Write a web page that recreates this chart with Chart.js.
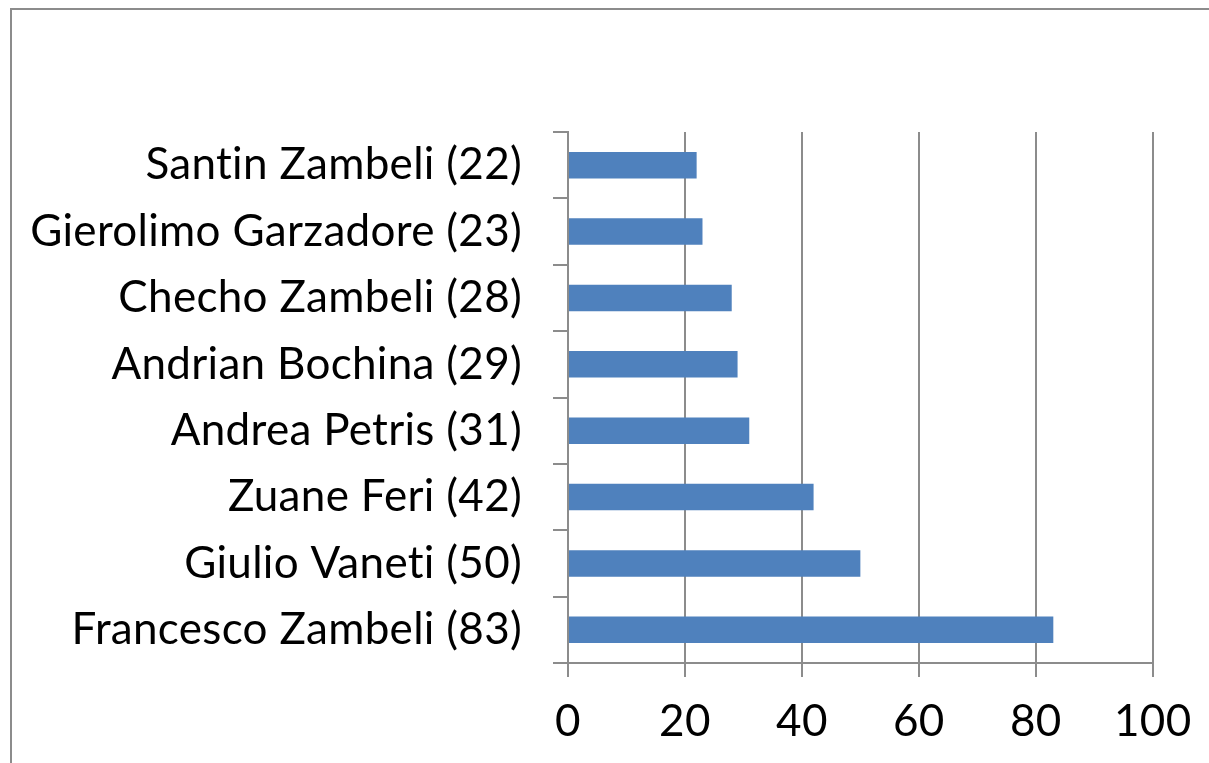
<!DOCTYPE html>
<html>
<head>
<meta charset="utf-8">
<title>Zambeli</title>
<script src="https://cdn.jsdelivr.net/npm/chart.js@4.4.1/dist/chart.umd.min.js"></script>
<style>
    html, body { margin: 0; padding: 0; background: #fff; overflow: hidden; }
    #wrap { position: relative; width: 1209px; height: 763px; }
    #frame { position: absolute; left: 10px; top: 8px; width: 1400px; height: 900px; border: 2px solid #8c8c8c; box-sizing: border-box; }
    #chart { position: absolute; left: 0; top: 0; }
</style>
</head>
<body>
<div id="wrap">
    <div id="frame"></div>
    <canvas id="chart" width="1209" height="763"></canvas>
</div>
<script>
// Данные графика (сверху вниз)
const categories = [
    'Santin Zambeli (22)',
    'Gierolimo Garzadore (23)',
    'Checho Zambeli (28)',
    'Andrian Bochina (29)',
    'Andrea Petris (31)',
    'Zuane Feri (42)',
    'Giulio Vaneti (50)',
    'Francesco Zambeli (83)'
];
const values = [22, 23, 28, 29, 31, 42, 50, 83];
const xTicks = [0, 20, 40, 60, 80, 100];

const gridColor = '#8c8c8c';
const labelFont = { family: 'Lato', size: 44 };

// Небольшой межбуквенный интервал, чтобы убрать лигатуру "ti"
const spacingPlugin = {
    id: 'spacing',
    beforeDraw: (chart) => {
        chart.ctx.letterSpacing = '0.3px';
    }
};

const ctx = document.getElementById('chart').getContext('2d');
const chart = new Chart(ctx, {
    type: 'bar',
    data: {
        labels: categories,
        datasets: [{
            data: values,
            backgroundColor: '#4f81bd',
            borderWidth: 0,
            barPercentage: 0.4,
            categoryPercentage: 1
        }]
    },
    options: {
        indexAxis: 'y',
        responsive: false,
        animation: false,
        devicePixelRatio: 1,
        layout: {
            padding: { left: 0, right: 54, top: 132, bottom: 0 }
        },
        plugins: {
            legend: { display: false },
            tooltip: { enabled: false }
        },
        scales: {
            x: {
                min: 0,
                max: 100,
                afterBuildTicks: (scale) => {
                    scale.ticks = xTicks.map(v => ({ value: v }));
                },
                afterFit: (scale) => { scale.height = 100; },
                grid: {
                    color: gridColor,
                    lineWidth: 2,
                    drawTicks: true,
                    tickLength: 14
                },
                border: { display: true, color: gridColor, width: 2 },
                ticks: {
                    color: '#000',
                    font: labelFont,
                    padding: 18,
                    maxRotation: 0
                }
            },
            y: {
                afterFit: (scale) => { scale.width = 568; },
                grid: {
                    drawOnChartArea: false,
                    drawTicks: true,
                    tickLength: 15,
                    color: gridColor,
                    lineWidth: 2
                },
                border: { display: true, color: gridColor, width: 2 },
                ticks: {
                    color: '#000',
                    font: labelFont,
                    padding: 31
                }
            }
        }
    },
    plugins: [spacingPlugin]
});
</script>
</body>
</html>
